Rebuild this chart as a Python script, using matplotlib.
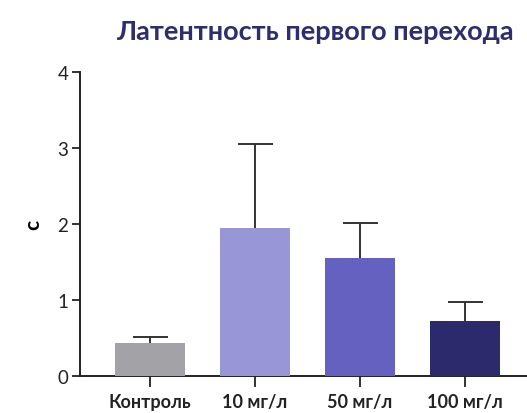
import matplotlib.pyplot as plt

groups = ["Контроль", "10 мг/л", "50 мг/л", "100 мг/л"]
means = [0.43, 1.95, 1.55, 0.72]
errors = [0.08, 1.10, 0.46, 0.25]
colors = ["#a3a3a7", "#9896d6", "#6461c1", "#2c2a6c"]

plt.rcParams['font.family'] = ['Lato', 'DejaVu Sans']

fig = plt.figure(figsize=(5.27, 4.14), dpi=100)
ax = fig.add_axes([80 / 527, 37 / 414, 447 / 527, 304 / 414])

x = range(len(groups))
# bars drawn over the error bars so only the upper half shows
ax.bar(x, means, width=0.667, color=colors, zorder=3)
ax.errorbar(x, means, yerr=errors, fmt='none',
            ecolor='#333333', elinewidth=1.4, capsize=12.6, capthick=1.4, zorder=2)

ax.set_xlim(-0.667, 3.59)
ax.set_ylim(0, 4)
ax.set_yticks([0, 1, 2, 3, 4])
ax.set_xticks(list(x))
ax.set_xticklabels(groups, fontsize=13, fontweight='bold')
ax.tick_params(axis='y', labelsize=13.5, length=5.5, width=1.3, colors='#222222', pad=3)
ax.tick_params(axis='x', length=8, width=1.3, colors='#222222', pad=4)
ax.set_ylabel("с", fontsize=15, fontweight='bold', labelpad=10)

for side in ['top', 'right']:
    ax.spines[side].set_visible(False)
for side in ['left', 'bottom']:
    ax.spines[side].set_linewidth(1.4)
    ax.spines[side].set_color('#222222')

fig.text(0.597, 0.922, "Латентность первого перехода", ha='center', va='center',
         fontsize=19.5, fontweight='bold', color='#2e2d6e')

plt.savefig("out.png", dpi=100)
